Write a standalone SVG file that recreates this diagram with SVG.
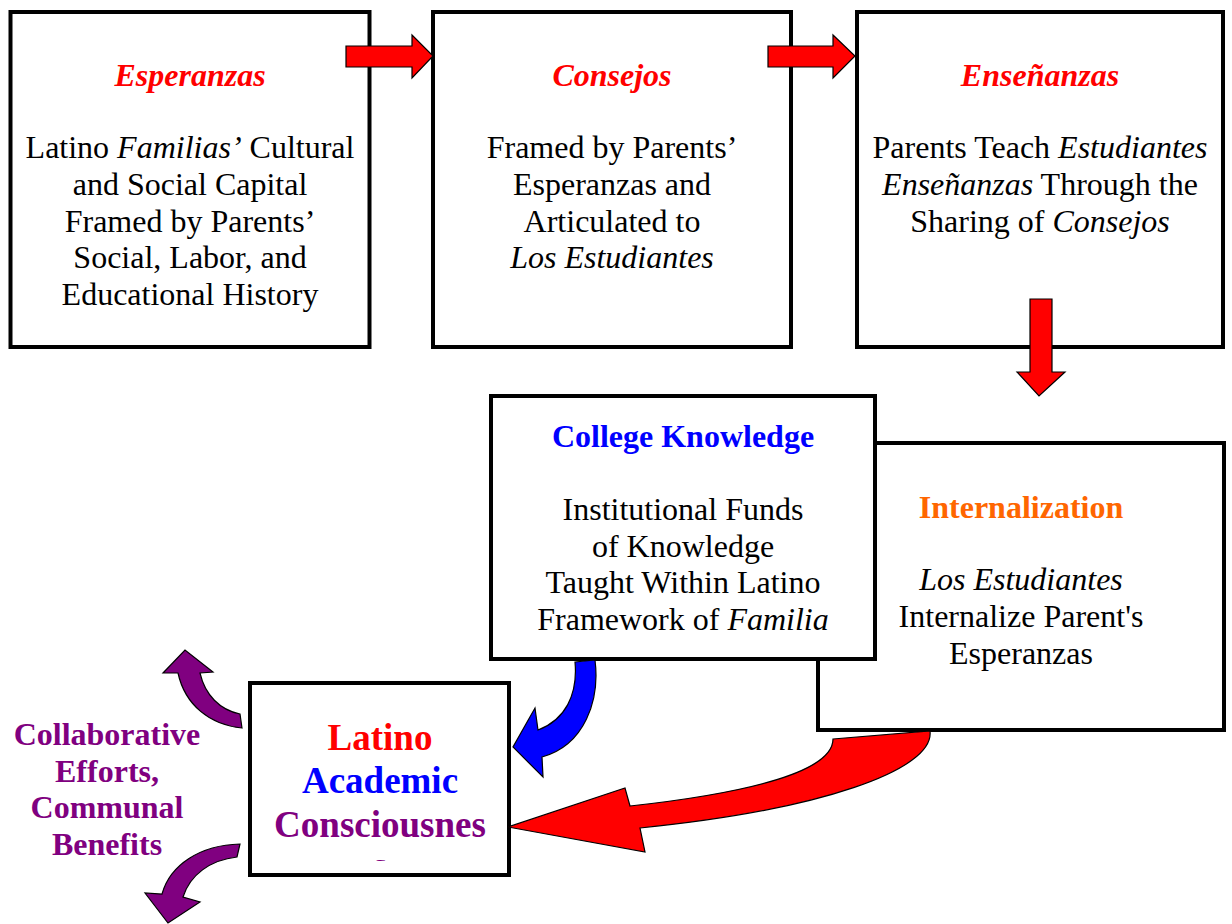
<svg xmlns="http://www.w3.org/2000/svg" width="1232" height="924" viewBox="0 0 1232 924">
<style>
.box{fill:#fff;stroke:#000;stroke-width:4}
.t{font-family:"Liberation Serif","Times New Roman",serif;text-anchor:middle}
.body{font-size:32px;fill:#000}
.title{font-size:32px;font-weight:bold}
.big{font-size:37px;font-weight:bold}
.arr{stroke:#000;stroke-width:1.2;stroke-linejoin:miter}
.red{fill:#ff0000}.blue{fill:#0000ff}.purple{fill:#800080}.orange{fill:#ff6600}
</style>
<defs>
<clipPath id="latclip"><rect x="252" y="685" width="255" height="176"/></clipPath>
</defs>
<rect width="1232" height="924" fill="#fff"/>

<g id="esperanzas">
<rect class="box" x="10.5" y="12" width="359" height="335"/>
<text class="t title red" x="190" y="86" font-style="italic">Esperanzas</text>
<text class="t body" x="190" y="158">Latino <tspan font-style="italic">Familias’</tspan> Cultural</text>
<text class="t body" x="190" y="195">and Social Capital</text>
<text class="t body" x="190" y="232">Framed by Parents’</text>
<text class="t body" x="190" y="268">Social, Labor, and</text>
<text class="t body" x="190" y="305">Educational History</text>
</g>

<g id="consejos">
<rect class="box" x="433" y="12" width="358" height="335"/>
<text class="t title red" x="612" y="86" font-style="italic">Consejos</text>
<text class="t body" x="612" y="158">Framed by Parents’</text>
<text class="t body" x="612" y="195">Esperanzas and</text>
<text class="t body" x="612" y="232">Articulated to</text>
<text class="t body" x="612" y="268" font-style="italic">Los Estudiantes</text>
</g>

<g id="ensenanzas">
<rect class="box" x="857" y="12" width="366" height="335"/>
<text class="t title red" x="1040" y="86" font-style="italic">Enseñanzas</text>
<text class="t body" x="1040" y="158">Parents Teach <tspan font-style="italic">Estudiantes</tspan></text>
<text class="t body" x="1040" y="195"><tspan font-style="italic">Enseñanzas</tspan> Through the</text>
<text class="t body" x="1040" y="232">Sharing of <tspan font-style="italic">Consejos</tspan></text>
</g>

<g id="internalization">
<rect class="box" x="818" y="443" width="406" height="287"/>
<text class="t title orange" x="1021" y="518">Internalization</text>
<text class="t body" x="1021" y="590" font-style="italic">Los Estudiantes</text>
<text class="t body" x="1021" y="627">Internalize Parent's</text>
<text class="t body" x="1021" y="664">Esperanzas</text>
</g>

<g id="college-knowledge">
<rect class="box" x="491" y="396" width="384" height="263"/>
<text class="t title blue" x="683" y="447">College Knowledge</text>
<text class="t body" x="683" y="520">Institutional Funds</text>
<text class="t body" x="683" y="557">of Knowledge</text>
<text class="t body" x="683" y="593">Taught Within Latino</text>
<text class="t body" x="683" y="630">Framework of <tspan font-style="italic">Familia</tspan></text>
</g>

<g id="latino-academic-consciousness">
<rect class="box" x="250" y="683" width="259" height="192"/>
<text class="t big red" x="380" y="750">Latino</text>
<text class="t big blue" x="380" y="793">Academic</text>
<text class="t big purple" x="380" y="837">Consciousnes</text>
<text class="t big purple" x="380" y="878" clip-path="url(#latclip)">s</text>
</g>

<g id="collaborative-efforts">
<text class="t title purple" x="107" y="745">Collaborative</text>
<text class="t title purple" x="107" y="782">Efforts,</text>
<text class="t title purple" x="107" y="818">Communal</text>
<text class="t title purple" x="107" y="855">Benefits</text>
</g>

<g id="connectors">
<polygon class="arr red" points="346,46 412,46 412,35 433,56 412,78 412,67 346,67"/>
<polygon class="arr red" points="768,46 833,46 833,35 855,56 833,78 833,67 768,67"/>
<polygon class="arr red" points="1030,299 1052,299 1052,372 1065,372 1039,396 1017,372 1030,372"/>
<path class="arr blue" d="M575,662 L595,660 C600,700 585,745 542,757 L543,777 L513,747 L535,708 L538,730 C565,720 578,695 575,662 Z"/>
<path class="arr red" d="M833,739 L930,731 C935,770 820,810 640,828 L645,852 L508,827 L625,788 L630,806 C730,795 833,775 833,739 Z"/>
<path class="arr purple" d="M240,714 L242,728 C210,725 185,705 178,673 L163,673 L185,650 L213,672 L200,673 C205,695 220,710 240,714 Z"/>
<path class="arr purple" d="M240,844 C200,845 170,865 162,894 L145,893 L168,923 L200,902 L183,897 C190,875 210,860 237,857 Z"/>
</g>
</svg>
